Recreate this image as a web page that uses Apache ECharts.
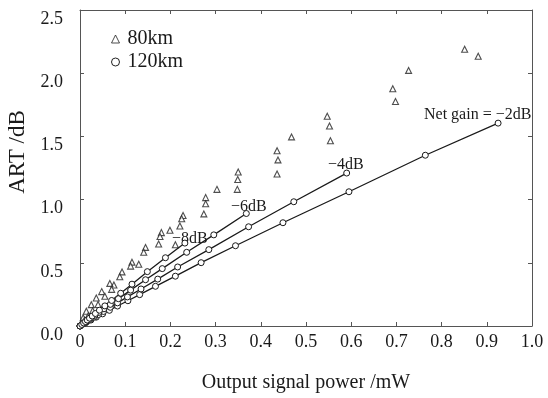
<!DOCTYPE html>
<html>
<head>
<meta charset="utf-8">
<script src="https://cdn.jsdelivr.net/npm/echarts@6/dist/echarts.min.js"></script>
<style>html,body{margin:0;padding:0;background:#fff}#c{width:548px;height:398px}</style>
</head>
<body>
<div id="c"></div>
<script>
// ---- data ----
const xTicks = [0, 0.1, 0.2, 0.3, 0.4, 0.5, 0.6, 0.7, 0.8, 0.9, 1.0];
const yTicks = [0, 0.5, 1.0, 1.5, 2.0, 2.5];

// 80km (triangles)
const km80X = [0.851, 0.881, 0.727, 0.692, 0.698, 0.547, 0.552, 0.554, 0.468, 0.436, 0.438, 0.436,
  0.350, 0.349, 0.303, 0.348, 0.278, 0.278, 0.274, 0.228, 0.225, 0.221, 0.199, 0.180, 0.177, 0.174,
  0.211, 0.145, 0.141, 0.115, 0.130, 0.112, 0.093, 0.088, 0.075, 0.066, 0.070, 0.048, 0.055, 0.036,
  0.040, 0.025, 0.028, 0.014, 0.018, 0.007, 0.010, 0.003];
const km80Y = [2.190, 2.134, 2.022, 1.877, 1.776, 1.659, 1.582, 1.465, 1.496, 1.387, 1.314, 1.203,
  1.218, 1.159, 1.081, 1.081, 1.016, 0.967, 0.887, 0.874, 0.848, 0.791, 0.757, 0.739, 0.708, 0.649,
  0.643, 0.622, 0.583, 0.505, 0.488, 0.474, 0.428, 0.390, 0.324, 0.337, 0.290, 0.272, 0.235, 0.221,
  0.170, 0.169, 0.120, 0.117, 0.080, 0.065, 0.045, 0.020];

// 120km (circles) at four net gains
const g2X = [0, 0.012, 0.024, 0.036, 0.050, 0.065, 0.083, 0.106, 0.132, 0.167, 0.211, 0.268, 0.344, 0.449, 0.595, 0.764, 0.925];
const g2Y = [0, 0.024, 0.047, 0.070, 0.096, 0.124, 0.158, 0.200, 0.248, 0.314, 0.394, 0.501, 0.635, 0.817, 1.062, 1.351, 1.605];
const g4X = [0, 0.008, 0.015, 0.023, 0.032, 0.041, 0.052, 0.067, 0.083, 0.105, 0.135, 0.172, 0.216, 0.285, 0.373, 0.473, 0.590];
const g4Y = [0, 0.018, 0.034, 0.052, 0.071, 0.091, 0.115, 0.148, 0.183, 0.230, 0.293, 0.371, 0.467, 0.604, 0.785, 0.983, 1.210];
const g6X = [0, 0.005, 0.010, 0.015, 0.020, 0.026, 0.033, 0.042, 0.053, 0.067, 0.085, 0.112, 0.145, 0.182, 0.236, 0.296, 0.368];
const g6Y = [0, 0.013, 0.026, 0.039, 0.052, 0.067, 0.085, 0.108, 0.136, 0.171, 0.216, 0.284, 0.366, 0.454, 0.583, 0.721, 0.890];
const g8X = [0, 0.004, 0.008, 0.012, 0.016, 0.021, 0.027, 0.034, 0.043, 0.055, 0.070, 0.090, 0.115, 0.149, 0.189, 0.232];
const g8Y = [0, 0.012, 0.024, 0.035, 0.047, 0.062, 0.079, 0.099, 0.125, 0.159, 0.202, 0.259, 0.331, 0.430, 0.540, 0.656];

const gainLabels = ['Net gain = \u22122dB', '\u22124dB', '\u22126dB', '\u22128dB'];
const xTitle = 'Output signal power /mW';
const yTitle = 'ART /dB';

// ---- build ----
const zip = (xs, ys) => xs.map((x, i) => [x, ys[i]]);
const SERIF = '"Liberation Serif", "DejaVu Serif", serif';
const ink = '#1a1a1a';
const axisCol = '#555';

function gainSeries(xs, ys) {
  return {
    name: '120km', type: 'line', data: zip(xs, ys),
    symbol: 'circle', symbolSize: 6, showSymbol: true,
    lineStyle: { color: ink, width: 1.3 },
    itemStyle: { color: '#fff', borderColor: ink, borderWidth: 1 },
    z: 3, animation: false
  };
}

const chart = echarts.init(document.getElementById('c'), null, { renderer: 'canvas' });
const axisCommon = () => ({
  axisLine: { show: true, onZero: false, lineStyle: { color: axisCol, width: 1 } },
  axisTick: { show: true, inside: true, length: 4, lineStyle: { color: axisCol } },
  splitLine: { show: false }
});
chart.setOption({
  backgroundColor: '#fff',
  animation: false,
  grid: { left: 80, right: 16, top: 10, bottom: 66 },
  legend: {
    orient: 'vertical', left: 106, top: 24, itemWidth: 8, itemHeight: 8, itemGap: 3,
    textStyle: { fontFamily: SERIF, fontSize: 20, color: ink, padding: [0, 0, 0, 3] },
    data: [
      { name: '80km', icon: 'triangle', itemStyle: { color: '#fff', borderColor: '#222', borderWidth: 1 } },
      { name: '120km', icon: 'circle', itemStyle: { color: '#fff', borderColor: '#222', borderWidth: 1 } }
    ],
    selectedMode: false
  },
  xAxis: [
    Object.assign({
      type: 'value', position: 'bottom', min: xTicks[0], max: xTicks[xTicks.length - 1], interval: 0.1,
      name: xTitle, nameLocation: 'middle', nameGap: 47,
      nameTextStyle: { fontFamily: SERIF, fontSize: 20, color: ink },
      axisLabel: { fontFamily: SERIF, fontSize: 18, color: ink, margin: 7,
        formatter: v => (Math.abs(v) < 1e-9 ? '0' : v.toFixed(1)) }
    }, axisCommon()),
    Object.assign({
      type: 'value', position: 'top', min: xTicks[0], max: xTicks[xTicks.length - 1], interval: 0.1,
      axisLabel: { show: false }
    }, axisCommon())
  ],
  yAxis: [
    Object.assign({
      type: 'value', position: 'left', min: yTicks[0], max: yTicks[yTicks.length - 1], interval: 0.5,
      axisLabel: { fontFamily: SERIF, fontSize: 18, color: ink, margin: 17,
        verticalAlign: 'top', lineHeight: 12, padding: [3, 0, 0, 0],
        formatter: v => v.toFixed(1) }
    }, axisCommon()),
    Object.assign({
      type: 'value', position: 'right', min: yTicks[0], max: yTicks[yTicks.length - 1], interval: 0.5,
      axisLabel: { show: false }
    }, axisCommon())
  ],
  series: [
    {
      name: '80km', type: 'scatter', data: zip(km80X, km80Y),
      symbol: 'triangle', symbolSize: 6,
      itemStyle: { color: '#fff', borderColor: '#222', borderWidth: 1.1 }, z: 2
    },
    gainSeries(g2X, g2Y),
    gainSeries(g4X, g4Y),
    gainSeries(g6X, g6Y),
    gainSeries(g8X, g8Y)
  ],
  graphic: [
    { type: 'text', left: 424, top: 107, style: { text: gainLabels[0], font: '16px ' + SERIF, fill: ink } },
    { type: 'text', left: 328, top: 157, style: { text: gainLabels[1], font: '16px ' + SERIF, fill: ink } },
    { type: 'text', left: 231, top: 199, style: { text: gainLabels[2], font: '16px ' + SERIF, fill: ink } },
    { type: 'text', left: 172, top: 231, style: { text: gainLabels[3], font: '16px ' + SERIF, fill: ink } },
    { type: 'text', x: 18, y: 152, rotation: Math.PI / 2,
      style: { text: yTitle, font: '23px ' + SERIF, fill: ink, align: 'center', verticalAlign: 'middle' } }
  ]
});
</script>
</body>
</html>
